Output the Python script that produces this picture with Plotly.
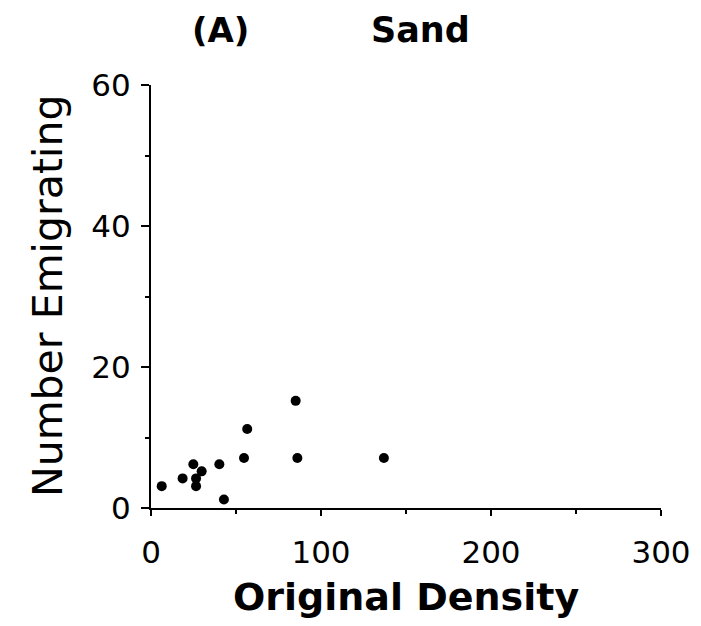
import plotly.graph_objects as go

density = [6.3, 18.6, 24.9, 29.8, 26.5, 26.5, 40.2, 42.9, 54.7, 56.6, 85.1, 86.1, 137.0]
emigrating = [3.1, 4.2, 6.2, 5.2, 4.2, 3.1, 6.2, 1.2, 7.1, 11.2, 15.2, 7.1, 7.1]

x_ticks = [0, 100, 200, 300]
y_ticks = [0, 20, 40, 60]

fig = go.Figure()
fig.add_trace(go.Scatter(
    x=density, y=emigrating, mode="markers",
    marker=dict(color="black", size=10, symbol="circle"),
    showlegend=False, cliponaxis=False,
))

font = "DejaVu Sans"
OFF = 8  # page body margin
W, H = 701 - OFF, 626 - OFF
L, R, T, B = 151 - OFF, 40, 85 - OFF, 118
plot_w = W - L - R
plot_h = H - T - B


def px(xp):
    return (xp - OFF - L) / plot_w


def py(yp):
    return ((H - B) - (yp - OFF)) / plot_h


fig.update_layout(
    width=W, height=H,
    margin=dict(l=L, r=R, t=T, b=B, autoexpand=False),
    plot_bgcolor="white", paper_bgcolor="white",
    font=dict(family=font, color="black"),
    xaxis=dict(
        range=[0, 300], tickvals=x_ticks, ticktext=[str(v) for v in x_ticks],
        showgrid=False, zeroline=False, showline=True, linecolor="black", linewidth=2,
        ticks="outside", ticklen=6, tickwidth=2, tickcolor="black", automargin=False,
        tickfont=dict(size=31, family=font), ticklabelstandoff=10,
        minor=dict(dtick=50, ticks="outside", ticklen=4, tickwidth=2, tickcolor="black"),
    ),
    yaxis=dict(
        range=[0, 60], tickvals=y_ticks, ticktext=[str(v) for v in y_ticks],
        showgrid=False, zeroline=False, showline=True, linecolor="black", linewidth=2,
        ticks="outside", ticklen=8, tickwidth=2, tickcolor="black", automargin=False,
        tickfont=dict(size=31, family=font), ticklabelstandoff=4,
        minor=dict(dtick=10, ticks="outside", ticklen=4, tickwidth=2, tickcolor="black"),
    ),
    annotations=[
        dict(text="<b>(A)</b>", x=px(220), y=py(30),
             xref="paper", yref="paper", showarrow=False,
             font=dict(size=34, family=font), xanchor="center", yanchor="middle"),
        dict(text="<b>Sand</b>", x=px(420), y=py(30),
             xref="paper", yref="paper", showarrow=False,
             font=dict(size=35, family=font), xanchor="center", yanchor="middle"),
        dict(text="<b>Original Density</b>", x=px(406), y=py(597),
             xref="paper", yref="paper",
             showarrow=False, font=dict(size=38, family=font), xanchor="center", yanchor="middle"),
        dict(text="Number Emigrating", x=px(48), y=py(296),
             xref="paper", yref="paper",
             showarrow=False, font=dict(size=41, family=font), textangle=-90,
             xanchor="center", yanchor="middle"),
    ],
)

fig.write_html("out.html")
